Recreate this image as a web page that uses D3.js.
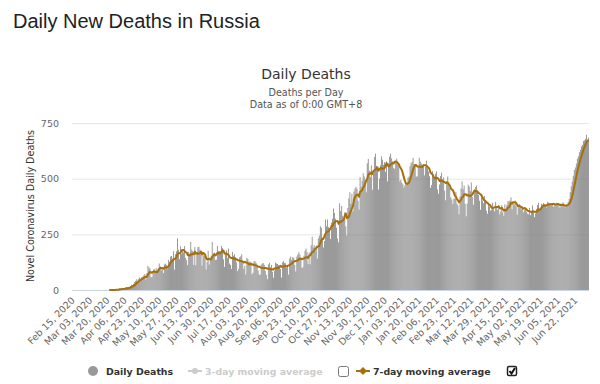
<!DOCTYPE html>
<html>
<head>
<meta charset="utf-8">
<script src="https://cdn.jsdelivr.net/npm/d3@7"></script>
<style>
  body { margin: 0; background: #fff; }
  svg { display: block; }
</style>
</head>
<body>
<svg id="chart" width="600" height="384"></svg>
<script>
// daily deaths, one array per month (first day: Feb 15, 2020)
const feb2020 = [0,0,0,0,0,0,0,0,0,0,0,0,0,0,0];
const mar2020 = [0,0,0,0,0,0,0,0,0,0,0,0,0,0,0,0,0,0,1,0,0,0,0,0,1,1,1,0,4,1,2];
const apr2020 = [8,6,4,9,4,2,11,13,13,12,12,18,24,22,28,36,41,48,42,51,57,45,57,60,66,72,47,76,108,101];
const may2020 = [96,57,58,76,95,86,98,88,97,119,107,88,94,76,115,119,113,93,135,127,150,153,139,174,92,161,174,232,181,138,196];
const jun2020 = [162,178,169,197,144,134,112,171,155,216,181,174,113,194,111,171,193,194,181,161,109,161,153,154,92,126,176,114,147,154];
const jul2020 = [216,154,168,135,136,198,173,175,174,198,188,138,104,168,179,144,186,119,113,95,171,154,161,147,124,85,95,147,151,161,129];
const aug2020 = [95,109,70,144,139,124,129,119,70,77,130,129,122,113,88,70,68,114,119,121,113,86,68,49,115,122,102,113,82,55,86];
const sep2020 = [123,119,117,112,110,94,56,124,129,121,120,100,112,69,141,150,135,147,145,113,83,150,160,169,159,147,99,102,154,177];
const oct2020 = [186,170,117,169,115,201,239,191,202,174,200,141,232,244,286,279,232,191,219,317,286,317,283,278,229,302,320,366,346,320,280];
const nov2020 = [232,214,389,355,378,334,313,349,286,245,368,411,439,387,432,353,442,456,463,455,401,361,507,464,491,524,510,496,439,569];
const dec2020 = [589,536,508,560,450,524,597,613,558,553,451,500,560,600,585,562,574,530,578,488,570,599,612,591,567,549,544,575,590,572,560];
const jan2021 = [488,495,482,475,460,470,476,481,505,510,556,570,575,594,565,561,509,511,556,594,576,568,551,565,515,553,581,547,533,511,459];
const feb2021 = [472,534,512,499,522,533,452,432,474,512,527,496,506,446,403,488,510,475,460,416,406,386,410,411,441,388,380,340];
const mar2021 = [420,456,488,452,469,387,331,388,473,464,444,483,419,383,452,462,469,440,427,401,360,420,401,390,422,403,356,343,391,375,357];
const apr2021 = [361,392,372,353,396,375,360,380,340,353,381,349,333,385,358,382,400,397,402,416,362,398,385,401,376,338,368,385,378,362];
const may2021 = [375,348,360,365,352,343,340,369,336,348,380,356,327,344,363,381,392,355,370,387,383,391,384,378,371,396,392,382,389,391,386];
const jun2021 = [373,384,386,392,391,376,370,383,376,394,380,371,377,382,395,409,440,466,488,513,539,550,568,590,601,619,629,645,652,669];
const jul2021 = [672,679,697,663,684];

const firstDay = new Date(2020, 1, 15);
const avgFirstDay = new Date(2020, 2, 22); // moving average drawn from here
const yTicks = [0, 250, 500, 750];
const tickStep = 17;

const daily = [].concat(feb2020, mar2020, apr2020, may2020, jun2020, jul2020, aug2020,
  sep2020, oct2020, nov2020, dec2020, jan2021, feb2021, mar2021, apr2021, may2021, jun2021, jul2021);
const dates = daily.map((d, i) => d3.timeDay.offset(firstDay, i));
const avgStart = d3.timeDay.count(firstDay, avgFirstDay);
const avg7 = daily.map((d, i) => i < 6 ? null : d3.mean(daily.slice(i - 6, i + 1)));

const svg = d3.select('#chart');
const font = '"DejaVu Sans", sans-serif';
const plotLeft = 72, plotRight = 589, plotTop = 123, plotBottom = 290;

// page heading
svg.append('text')
  .attr('x', 13).attr('y', 28)
  .attr('font-family', '"Liberation Sans", Arial, sans-serif')
  .attr('font-size', 20).attr('fill', '#222')
  .text('Daily New Deaths in Russia');

// chart titles
const cx = 306;
svg.append('text').attr('x', cx).attr('y', 79).attr('text-anchor', 'middle')
  .attr('font-family', font).attr('font-size', 14).attr('fill', '#333').text('Daily Deaths');
svg.append('text').attr('x', cx).attr('y', 96).attr('text-anchor', 'middle')
  .attr('font-family', font).attr('font-size', 9.6).attr('fill', '#555').text('Deaths per Day');
svg.append('text').attr('x', cx).attr('y', 108).attr('text-anchor', 'middle')
  .attr('font-family', font).attr('font-size', 9.6).attr('fill', '#555').text('Data as of 0:00 GMT+8');

const x = d3.scaleBand()
  .domain(d3.range(daily.length))
  .range([plotLeft, plotRight])
  .paddingInner(0.25)
  .paddingOuter(0.1);
const y = d3.scaleLinear().domain([0, 750]).range([plotBottom, plotTop]);

// grid
svg.append('g').selectAll('line')
  .data(yTicks.slice(1))
  .enter().append('line')
  .attr('x1', plotLeft).attr('x2', plotRight)
  .attr('y1', d => y(d) + 0.5).attr('y2', d => y(d) + 0.5)
  .attr('stroke', '#e6e6e6');

// y axis labels
const yAxis = svg.append('g')
  .attr('transform', 'translate(' + plotLeft + ',0)')
  .call(d3.axisLeft(y).tickValues(yTicks).tickSize(0).tickPadding(13));
yAxis.select('.domain').remove();
yAxis.selectAll('text')
  .attr('font-family', font).attr('font-size', 9.5).attr('fill', '#666');

svg.append('text')
  .attr('transform', 'translate(31,206) rotate(-90)')
  .attr('text-anchor', 'middle').attr('dy', '0.35em')
  .attr('font-family', font).attr('font-size', 9.6).attr('fill', '#333')
  .text('Novel Coronavirus Daily Deaths');

// bars
svg.append('g').selectAll('rect')
  .data(daily)
  .enter().append('rect')
  .attr('x', (d, i) => x(i))
  .attr('width', x.bandwidth())
  .attr('y', d => y(d))
  .attr('height', d => y(0) - y(d))
  .attr('fill', '#7c7c7c');

// x axis
const fmt = d3.timeFormat('%b %d, %Y');
const xAxis = svg.append('g')
  .attr('transform', 'translate(0,' + plotBottom + ')')
  .call(d3.axisBottom(x)
    .tickValues(d3.range(0, daily.length, tickStep))
    .tickFormat(i => fmt(dates[i]))
    .tickSize(0));
xAxis.select('.domain').attr('stroke', '#ccd6eb').attr('d', 'M' + plotLeft + ',0.5H' + plotRight);
xAxis.selectAll('text')
  .attr('font-family', font).attr('font-size', 9.5).attr('fill', '#666')
  .attr('text-anchor', 'end')
  .attr('dy', null).attr('y', 0)
  .attr('transform', 'translate(3,11) rotate(-45)');

// 7-day moving average
const line = d3.line()
  .defined((d, i) => d !== null && i >= avgStart)
  .x((d, i) => x(i) + x.bandwidth() / 2)
  .y(d => y(d));
svg.append('path')
  .datum(avg7)
  .attr('d', line)
  .attr('fill', 'none')
  .attr('stroke', '#a8700c')
  .attr('stroke-width', 2)
  .attr('stroke-linejoin', 'round');

// legend
const lg = svg.append('g').attr('font-family', font).attr('font-size', 9.4).attr('font-weight', 'bold');
lg.append('circle').attr('cx', 93).attr('cy', 371).attr('r', 5).attr('fill', '#999');
lg.append('text').attr('x', 106).attr('y', 374.5).attr('fill', '#333').text('Daily Deaths');

lg.append('line').attr('x1', 188).attr('x2', 202).attr('y1', 371).attr('y2', 371)
  .attr('stroke', '#ccc').attr('stroke-width', 2);
lg.append('circle').attr('cx', 195).attr('cy', 371).attr('r', 3).attr('fill', '#ccc');
lg.append('text').attr('x', 205).attr('y', 374.5).attr('fill', '#ccc').text('3-day moving average');

lg.append('rect').attr('x', 338.5).attr('y', 366.5).attr('width', 10).attr('height', 10)
  .attr('rx', 2).attr('fill', '#fff').attr('stroke', '#777');

lg.append('line').attr('x1', 356).attr('x2', 370).attr('y1', 371).attr('y2', 371)
  .attr('stroke', '#a8700c').attr('stroke-width', 2);
lg.append('path').attr('d', 'M363,367L367,371L363,375L359,371Z').attr('fill', '#a8700c');
lg.append('text').attr('x', 373).attr('y', 374.5).attr('fill', '#333').text('7-day moving average');

lg.append('rect').attr('x', 507.5).attr('y', 366.5).attr('width', 9).attr('height', 9)
  .attr('rx', 1.5).attr('fill', '#fff').attr('stroke', '#222').attr('stroke-width', 1.5);
lg.append('path').attr('d', 'M509.5,371L511.5,373.5L515,368')
  .attr('fill', 'none').attr('stroke', '#111').attr('stroke-width', 2);
</script>
</body>
</html>
